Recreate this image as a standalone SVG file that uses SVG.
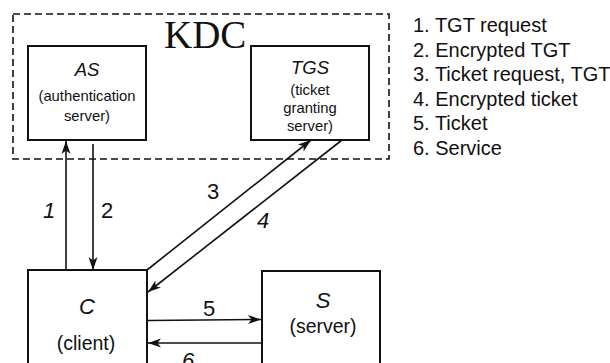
<svg xmlns="http://www.w3.org/2000/svg" width="610" height="363" viewBox="0 0 610 363">
  <defs>
    <marker id="arrow" markerUnits="userSpaceOnUse" markerWidth="16" markerHeight="12" refX="13" refY="0" viewBox="-1 -6 16 12" orient="auto">
      <path d="M0,-4.5 L13,0 L0,4.5 L3.5,0 z" fill="#111"/>
    </marker>
  </defs>
  <style>
    .box { fill: #fff; stroke: #111; stroke-width: 2; }
    .kdc { fill: none; stroke: #111; stroke-width: 1.6; stroke-dasharray: 7 4; }
    .edge { fill: none; stroke: #111; stroke-width: 1.6; marker-end: url(#arrow); }
    .sans { font-family: "Liberation Sans", Arial, sans-serif; fill: #111; }
    .mid { text-anchor: middle; }
    .it { font-style: italic; }
    .lbl { font-family: "Liberation Sans", Arial, sans-serif; font-size: 22px; fill: #111; text-anchor: middle; }
    .legend { font-family: "Liberation Sans", Arial, sans-serif; font-size: 20px; fill: #111; }
  </style>
  <rect width="610" height="363" fill="#fff"/>

  <!-- Key Distribution Center enclosure -->
  <g id="kdc">
    <rect class="kdc" x="13" y="14" width="376" height="145"/>
    <text x="164" y="48" font-family="'Liberation Serif', 'Times New Roman', serif" font-size="39" fill="#111">KDC</text>
  </g>

  <g id="as">
    <rect class="box" x="28" y="46" width="118" height="94"/>
    <text class="sans mid it" x="87" y="76" font-size="18.5">AS</text>
    <text class="sans mid" x="87" y="101" font-size="14.8">(authentication</text>
    <text class="sans mid" x="87" y="121" font-size="14.8">server)</text>
  </g>

  <g id="tgs">
    <rect class="box" x="251" y="46" width="118" height="94"/>
    <text class="sans mid it" x="310" y="74" font-size="18.5">TGS</text>
    <text class="sans mid" x="310" y="95" font-size="14.8">(ticket</text>
    <text class="sans mid" x="310" y="113" font-size="14.8">granting</text>
    <text class="sans mid" x="310" y="131" font-size="14.8">server)</text>
  </g>

  <g id="client">
    <rect class="box" x="28" y="270" width="119" height="110"/>
    <text class="sans mid it" x="87" y="314" font-size="22">C</text>
    <text class="sans mid" x="86" y="350" font-size="19.5">(client)</text>
  </g>

  <g id="server">
    <rect class="box" x="262" y="271" width="118" height="110"/>
    <text class="sans mid it" x="323" y="308" font-size="22">S</text>
    <text class="sans mid" x="323" y="333" font-size="19.5">(server)</text>
  </g>

  <!-- message flows -->
  <g id="connectors">
    <line class="edge" x1="66" y1="270" x2="66" y2="141"/>
    <line class="edge" x1="93" y1="144" x2="93" y2="270"/>
    <line class="edge" x1="147" y1="270" x2="311" y2="140"/>
    <line class="edge" x1="342" y1="140" x2="148" y2="292"/>
    <line class="edge" x1="148" y1="320.5" x2="261" y2="319.5"/>
    <line class="edge" x1="262" y1="343" x2="148" y2="343"/>
    <text class="lbl it" x="49" y="218">1</text>
    <text class="lbl" x="107" y="218">2</text>
    <text class="lbl" x="213" y="199">3</text>
    <text class="lbl it" x="263" y="228">4</text>
    <text class="lbl" x="209" y="316">5</text>
    <text class="lbl it" x="188" y="368">6</text>
  </g>

  <g id="legend">
    <text class="legend" x="413" y="32">1. TGT request</text>
    <text class="legend" x="413" y="56.5">2. Encrypted TGT</text>
    <text class="legend" x="413" y="81">3. Ticket request, TGT</text>
    <text class="legend" x="413" y="105.5">4. Encrypted ticket</text>
    <text class="legend" x="413" y="130">5. Ticket</text>
    <text class="legend" x="413" y="154.5">6. Service</text>
  </g>
</svg>
